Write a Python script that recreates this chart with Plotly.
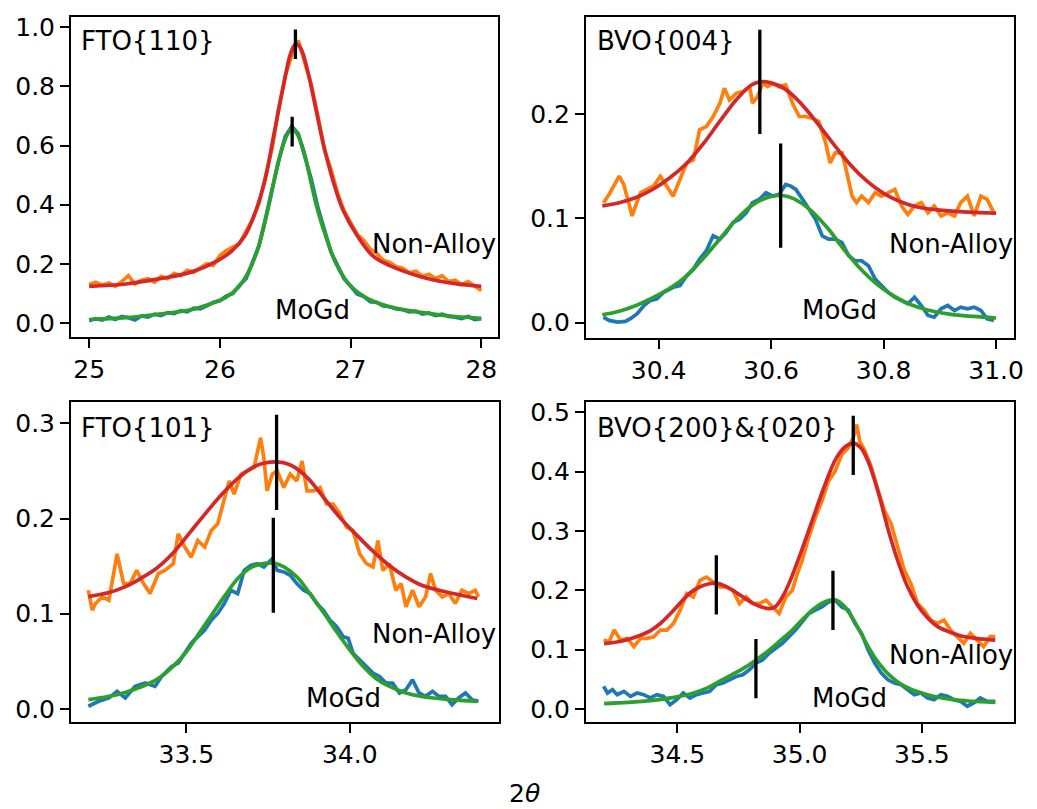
import plotly.graph_objects as go
from plotly.subplots import make_subplots

# ---------------- FTO{110} (25-28) ----------------
tl_x = [25.00, 25.05, 25.10, 25.15, 25.20, 25.25, 25.30, 25.35, 25.40, 25.45,
        25.50, 25.55, 25.60, 25.65, 25.70, 25.75, 25.80, 25.85, 25.90, 25.95,
        26.00, 26.05, 26.10, 26.15, 26.20, 26.25, 26.30, 26.35, 26.40, 26.45,
        26.50, 26.55, 26.60, 26.65, 26.70, 26.75, 26.80, 26.85, 26.90, 26.95,
        27.00, 27.05, 27.10, 27.15, 27.20, 27.25, 27.30, 27.35, 27.40, 27.45,
        27.50, 27.55, 27.60, 27.65, 27.70, 27.75, 27.80, 27.85, 27.90, 27.95, 28.00]
tl_nonalloy = [.130, .138, .128, .135, .124, .140, .160, .132, .145, .150,
               .138, .158, .150, .168, .160, .178, .172, .185, .200, .195,
               .228, .245, .255, .268, .310, .350, .405, .500, .590, .725,
               .835, .905, .955, .880, .805, .700, .585, .520, .440, .380,
               .340, .300, .280, .250, .235, .212, .205, .190, .185, .170,
               .175, .158, .165, .150, .160, .140, .145, .130, .140, .125, .110]
tl_mogd = [.008, .015, .010, .020, .012, .022, .018, .010, .024, .020,
           .030, .025, .035, .032, .042, .038, .050, .048, .058, .070,
           .075, .092, .100, .128, .150, .205, .262, .355, .450, .550,
           .630, .665, .640, .560, .485, .390, .310, .240, .195, .150,
           .125, .098, .090, .072, .070, .058, .055, .048, .045, .038,
           .040, .030, .034, .025, .030, .022, .020, .015, .022, .012, .015]
tl_fit_na_x = [25.00, 25.28, 25.53, 25.78, 25.98, 26.09, 26.19, 26.26, 26.34, 26.41,
               26.49, 26.54, 26.58, 26.62, 26.67, 26.72, 26.79, 26.87, 26.94, 27.05,
               27.17, 27.30, 27.55, 27.80, 28.00]
tl_fit_na_y = [.124, .132, .149, .172, .210, .243, .294, .361, .473, .630,
               .810, .910, .944, .927, .855, .754, .608, .474, .384, .296,
               .227, .194, .155, .133, .124]
tl_fit_mg_x = [25.00, 25.28, 25.53, 25.78, 25.91, 26.04, 26.14, 26.21, 26.29, 26.36,
               26.44, 26.49, 26.53, 26.555, 26.59, 26.64, 26.69, 26.74, 26.82, 26.89,
               26.99, 27.12, 27.30, 27.55, 27.80, 28.00]
tl_fit_mg_y = [.012, .018, .030, .045, .062, .085, .120, .165, .250, .370,
               .530, .610, .648, .656, .640, .585, .490, .395, .280, .200,
               .130, .085, .055, .035, .022, .016]
tl_peak_x = [26.578, 26.553]
tl_peak_y = [0.942, 0.647]

# ---------------- BVO{004} (30.3-31.0) ----------------
tr_na_x = [30.302, 30.312, 30.330, 30.338, 30.347, 30.353, 30.359, 30.368, 30.379, 30.391,
           30.403, 30.415, 30.426, 30.438, 30.450, 30.462, 30.473, 30.485, 30.497, 30.509,
           30.517, 30.526, 30.538, 30.550, 30.562, 30.567, 30.576, 30.585, 30.594, 30.603,
           30.614, 30.626, 30.638, 30.650, 30.661, 30.673, 30.685, 30.697, 30.705, 30.714,
           30.726, 30.732, 30.744, 30.752, 30.761, 30.773, 30.785, 30.796, 30.808, 30.820,
           30.832, 30.843, 30.855, 30.867, 30.879, 30.890, 30.902, 30.914, 30.926, 30.937,
           30.949, 30.961, 30.973, 30.984, 30.996]
tr_na_y = [.1151, .1230, .1405, .1326, .1151, .1024, .1119, .1246, .1278, .1310,
           .1405, .1310, .1214, .1373, .1532, .1564, .1851, .1882, .1978, .2105,
           .2248, .2137, .2200, .2216, .2264, .2105, .2169, .2296, .2264, .2296,
           .2264, .2280, .2105, .1978, .1978, .1962, .1930, .1723, .1532, .1628,
           .1628, .1501, .1214, .1151, .1214, .1151, .1246, .1214, .1246, .1278,
           .1119, .1039, .1119, .1151, .1055, .1119, .1024, .1055, .1024, .1151,
           .1214, .1024, .1214, .1183, .1055]
tr_mg_x = [30.302, 30.312, 30.327, 30.341, 30.350, 30.362, 30.374, 30.385, 30.397, 30.409,
           30.426, 30.438, 30.450, 30.462, 30.473, 30.485, 30.497, 30.509, 30.520, 30.532,
           30.544, 30.556, 30.567, 30.579, 30.591, 30.603, 30.614, 30.626, 30.635, 30.644,
           30.656, 30.667, 30.679, 30.691, 30.702, 30.714, 30.726, 30.738, 30.749, 30.761,
           30.773, 30.785, 30.796, 30.808, 30.820, 30.832, 30.843, 30.855, 30.867, 30.879,
           30.890, 30.902, 30.914, 30.926, 30.937, 30.949, 30.961, 30.973, 30.984, 30.996]
tr_mg_y = [.0053, .0022, .0006, .0012, .0038, .0086, .0165, .0212, .0228, .0291,
           .0340, .0356, .0451, .0515, .0610, .0690, .0833, .0801, .0865, .0960,
           .0992, .1055, .1151, .1183, .1246, .1214, .1230, .1326, .1310, .1278,
           .1183, .1087, .0992, .0833, .0801, .0801, .0769, .0642, .0594, .0594,
           .0546, .0419, .0356, .0291, .0244, .0212, .0181, .0244, .0165, .0069,
           .0053, .0133, .0165, .0117, .0149, .0133, .0149, .0117, .0038, .0022]
tr_fit_na_x = [30.30, 30.33, 30.36, 30.39, 30.42, 30.45, 30.48, 30.51, 30.54, 30.565,
               30.58, 30.60, 30.625, 30.65, 30.68, 30.71, 30.74, 30.77, 30.80, 30.83,
               30.86, 30.90, 30.95, 31.00]
tr_fit_na_y = [.112, .115, .120, .128, .139, .153, .172, .194, .215, .228,
               .231, .230, .224, .212, .193, .172, .152, .136, .124, .116,
               .111, .108, .106, .105]
tr_fit_mg_x = [30.30, 30.33, 30.36, 30.39, 30.42, 30.45, 30.48, 30.51, 30.54, 30.57,
               30.60, 30.62, 30.64, 30.67, 30.70, 30.73, 30.76, 30.79, 30.82, 30.85,
               30.88, 30.92, 30.96, 31.00]
tr_fit_mg_y = [.0076, .011, .0165, .024, .033, .045, .062, .081, .100, .114,
               .121, .122, .119, .108, .091, .070, .051, .036, .025, .017,
               .012, .008, .006, .0045]
tr_peak_x = [30.580, 30.617]
tr_peak_y = [0.231, 0.122]

# ---------------- FTO{101} (33.2-34.4) ----------------
bl_na_x = [33.200, 33.212, 33.222, 33.242, 33.263, 33.288, 33.308, 33.328, 33.348, 33.369,
           33.389, 33.414, 33.434, 33.460, 33.475, 33.495, 33.515, 33.535, 33.556, 33.576,
           33.596, 33.616, 33.631, 33.646, 33.667, 33.687, 33.707, 33.727, 33.737, 33.747,
           33.763, 33.778, 33.798, 33.818, 33.838, 33.854, 33.869, 33.889, 33.909, 33.929,
           33.949, 33.970, 33.990, 34.010, 34.030, 34.051, 34.071, 34.086, 34.101, 34.121,
           34.141, 34.157, 34.172, 34.192, 34.212, 34.232, 34.247, 34.263, 34.283, 34.303,
           34.323, 34.343, 34.364, 34.384, 34.394]
bl_na_y = [.1247, .1038, .1108, .1177, .1142, .1630, .1317, .1317, .1456, .1317,
           .1212, .1421, .1456, .1526, .1839, .1700, .1595, .1769, .1700, .1874,
           .1944, .2187, .2396, .2257, .2466, .2501, .2536, .2849, .2640, .2292,
           .2466, .2501, .2327, .2466, .2396, .2605, .2292, .2292, .2327, .2153,
           .2153, .2048, .1909, .1874, .1630, .1526, .1491, .1769, .1456, .1526,
           .1247, .1317, .1073, .1247, .1073, .1177, .1421, .1247, .1177, .1212,
           .1108, .1247, .1212, .1247, .1177]
bl_mg_x = [33.200, 33.232, 33.263, 33.288, 33.313, 33.343, 33.374, 33.404, 33.424, 33.455,
           33.475, 33.495, 33.515, 33.535, 33.556, 33.576, 33.596, 33.616, 33.636, 33.657,
           33.677, 33.697, 33.717, 33.737, 33.763, 33.778, 33.798, 33.818, 33.838, 33.859,
           33.879, 33.899, 33.919, 33.939, 33.960, 33.980, 33.995, 34.010, 34.030, 34.051,
           34.071, 34.091, 34.111, 34.131, 34.152, 34.172, 34.192, 34.212, 34.232, 34.253,
           34.273, 34.293, 34.313, 34.333, 34.354, 34.374, 34.394]
bl_mg_y = [.0028, .0080, .0115, .0185, .0115, .0237, .0272, .0237, .0341, .0446,
           .0481, .0585, .0690, .0759, .0829, .0933, .1003, .1108, .1247, .1212,
           .1456, .1508, .1526, .1491, .1578, .1456, .1439, .1404, .1317, .1247,
           .1212, .1108, .1038, .0933, .0864, .0759, .0742, .0585, .0516, .0446,
           .0376, .0341, .0272, .0272, .0167, .0202, .0307, .0167, .0132, .0185,
           .0132, .0132, .0045, .0115, .0167, .0097, .0080]
bl_fit_na_x = [33.20, 33.26, 33.31, 33.36, 33.41, 33.46, 33.51, 33.56, 33.61, 33.66,
               33.71, 33.77, 33.82, 33.87, 33.92, 33.97, 34.02, 34.07, 34.12, 34.17,
               34.22, 34.27, 34.32, 34.39]
bl_fit_na_y = [.118, .122, .128, .137, .148, .164, .185, .206, .226, .243,
               .255, .2595, .256, .243, .222, .201, .183, .166, .151, .139,
               .130, .125, .121, .116]
bl_fit_mg_x = [33.20, 33.26, 33.31, 33.36, 33.41, 33.46, 33.50, 33.54, 33.58, 33.62,
               33.66, 33.70, 33.74, 33.77, 33.80, 33.84, 33.88, 33.92, 33.96, 34.00,
               34.04, 34.08, 34.12, 34.17, 34.22, 34.30, 34.39]
bl_fit_mg_y = [.0098, .013, .017, .023, .031, .045, .060, .080, .100, .120,
               .138, .149, .153, .153, .149, .138, .120, .101, .081, .062,
               .045, .032, .024, .017, .013, .010, .008]
bl_peak_x = [33.776, 33.766]
bl_peak_y = [0.259, 0.151]

# ---------------- BVO{200}&{020} (34.2-35.8) ----------------
br_na_x = [34.198, 34.221, 34.241, 34.268, 34.295, 34.322, 34.349, 34.376, 34.403, 34.430,
           34.457, 34.484, 34.511, 34.538, 34.565, 34.592, 34.619, 34.646, 34.673, 34.700,
           34.727, 34.754, 34.781, 34.808, 34.835, 34.862, 34.889, 34.916, 34.943, 34.970,
           34.990, 35.010, 35.037, 35.064, 35.091, 35.118, 35.145, 35.172, 35.199, 35.219,
           35.233, 35.246, 35.267, 35.294, 35.321, 35.347, 35.374, 35.401, 35.428, 35.455,
           35.482, 35.509, 35.536, 35.563, 35.590, 35.617, 35.644, 35.671, 35.698, 35.725,
           35.752, 35.779, 35.800]
br_na_y = [.1161, .1133, .1329, .1161, .1189, .1050, .1189, .1189, .1217, .1329,
           .1329, .1441, .1664, .1943, .1887, .2166, .2222, .2138, .2055, .2055,
           .1999, .1776, .1887, .1776, .1776, .1831, .1720, .1608, .1887, .1999,
           .2278, .2501, .2892, .3227, .3506, .3841, .4009, .4288, .4400, .4567,
           .4791, .4511, .4344, .4065, .3674, .3339, .3116, .2725, .2334, .2111,
           .1776, .1664, .1496, .1441, .1496, .1329, .1217, .1106, .1273, .1161,
           .1050, .1217, .1217]
br_mg_x = [34.198, 34.214, 34.234, 34.254, 34.281, 34.308, 34.335, 34.362, 34.389, 34.416,
           34.443, 34.470, 34.497, 34.524, 34.551, 34.578, 34.605, 34.632, 34.659, 34.686,
           34.713, 34.740, 34.767, 34.794, 34.821, 34.848, 34.875, 34.902, 34.929, 34.956,
           34.983, 35.010, 35.037, 35.064, 35.091, 35.118, 35.145, 35.172, 35.199, 35.226,
           35.253, 35.280, 35.307, 35.334, 35.361, 35.388, 35.415, 35.442, 35.469, 35.496,
           35.523, 35.550, 35.577, 35.604, 35.631, 35.658, 35.685, 35.712, 35.739, 35.766, 35.800]
br_mg_y = [.0380, .0268, .0324, .0240, .0296, .0212, .0268, .0240, .0184, .0240,
           .0212, .0073, .0156, .0268, .0184, .0240, .0268, .0296, .0408, .0436,
           .0491, .0547, .0575, .0659, .0771, .0826, .0938, .1022, .1106, .1217,
           .1329, .1468, .1608, .1664, .1720, .1803, .1831, .1720, .1664, .1441,
           .1273, .0994, .0771, .0603, .0491, .0436, .0408, .0324, .0240, .0268,
           .0184, .0156, .0240, .0212, .0156, .0128, .0045, .0101, .0184, .0128, .0128]
br_fit_na_x = [34.20, 34.27, 34.335, 34.39, 34.43, 34.47, 34.51, 34.55, 34.59, 34.63,
               34.66, 34.70, 34.73, 34.77, 34.81, 34.85, 34.875, 34.90, 34.93, 34.96,
               35.00, 35.05, 35.10, 35.15, 35.19, 35.22, 35.25, 35.28, 35.32, 35.36,
               35.40, 35.44, 35.48, 35.52, 35.56, 35.61, 35.66, 35.72, 35.80]
br_fit_na_y = [.110, .114, .122, .132, .144, .160, .178, .195, .2055, .211,
               .212, .206, .199, .188, .178, .171, .169, .172, .189, .215,
               .258, .316, .374, .423, .443, .448, .440, .417, .367, .305,
               .251, .207, .176, .155, .140, .130, .123, .119, .116]
br_fit_mg_x = [34.20, 34.30, 34.40, 34.48, 34.56, 34.62, 34.67, 34.72, 34.78, 34.83,
               34.875, 34.92, 34.97, 35.01, 35.05, 35.09, 35.12, 35.15, 35.18, 35.21,
               35.25, 35.28, 35.31, 35.35, 35.39, 35.43, 35.49, 35.55, 35.62, 35.70, 35.80]
br_fit_mg_y = [.009, .011, .0145, .019, .026, .035, .046, .057, .071, .085,
               .099, .115, .133, .150, .166, .178, .183, .183, .174, .157,
               .128, .105, .085, .064, .049, .038, .028, .021, .016, .013, .011]
br_peak_x = [34.659, 35.219, 35.136, 34.821]
br_peak_y = [0.209, 0.444, 0.183, 0.068]
peak_half = 0.05

# ---------------- axes / labels ----------------
xticks = [[25, 26, 27, 28], [30.4, 30.6, 30.8, 31.0], [33.5, 34.0], [34.5, 35.0, 35.5]]
xticklabels = [["25", "26", "27", "28"], ["30.4", "30.6", "30.8", "31.0"],
               ["33.5", "34.0"], ["34.5", "35.0", "35.5"]]
yticks = [[0.0, 0.2, 0.4, 0.6, 0.8, 1.0], [0.0, 0.1, 0.2], [0.0, 0.1, 0.2, 0.3],
          [0.0, 0.1, 0.2, 0.3, 0.4, 0.5]]
yticklabels = [["0.0", "0.2", "0.4", "0.6", "0.8", "1.0"], ["0.0", "0.1", "0.2"],
               ["0.0", "0.1", "0.2", "0.3"], ["0.0", "0.1", "0.2", "0.3", "0.4", "0.5"]]
xranges = [[24.861, 28.129], [30.271, 31.032], [33.147, 34.457], [34.126, 35.877]]
yranges = [[-0.047, 1.0336], [-0.0146, 0.293], [-0.014, 0.323], [-0.0224, 0.518]]

W, H = 1037, 809
BLUE, ORANGE, GREEN, RED = "#1f77b4", "#ff7f0e", "#2ca02c", "#d62728"
FONT = "DejaVu Sans"
LW = 3.7

fig = make_subplots(rows=2, cols=2)

panels = [
    (1, 1, tl_x, tl_mogd, tl_x, tl_nonalloy, tl_fit_mg_x, tl_fit_mg_y, tl_fit_na_x, tl_fit_na_y, tl_peak_x, tl_peak_y),
    (1, 2, tr_mg_x, tr_mg_y, tr_na_x, tr_na_y, tr_fit_mg_x, tr_fit_mg_y, tr_fit_na_x, tr_fit_na_y, tr_peak_x, tr_peak_y),
    (2, 1, bl_mg_x, bl_mg_y, bl_na_x, bl_na_y, bl_fit_mg_x, bl_fit_mg_y, bl_fit_na_x, bl_fit_na_y, bl_peak_x, bl_peak_y),
    (2, 2, br_mg_x, br_mg_y, br_na_x, br_na_y, br_fit_mg_x, br_fit_mg_y, br_fit_na_x, br_fit_na_y, br_peak_x, br_peak_y),
]
for (r, c, mx, my, nx, ny, fmx, fmy, fnx, fny, px, py) in panels:
    fig.add_trace(go.Scatter(x=mx, y=my, mode="lines", line=dict(color=BLUE, width=LW),
                             showlegend=False, hoverinfo="skip"), row=r, col=c)
    fig.add_trace(go.Scatter(x=nx, y=ny, mode="lines", line=dict(color=ORANGE, width=LW),
                             showlegend=False, hoverinfo="skip"), row=r, col=c)
    fig.add_trace(go.Scatter(x=fmx, y=fmy, mode="lines", line=dict(color=GREEN, width=LW, shape="spline"),
                             showlegend=False, hoverinfo="skip"), row=r, col=c)
    fig.add_trace(go.Scatter(x=fnx, y=fny, mode="lines", line=dict(color=RED, width=LW, shape="spline"),
                             showlegend=False, hoverinfo="skip"), row=r, col=c)
    for xp, yp in zip(px, py):
        fig.add_trace(go.Scatter(x=[xp, xp], y=[yp - peak_half, yp + peak_half], mode="lines",
                                 line=dict(color="black", width=3.3),
                                 showlegend=False, hoverinfo="skip"), row=r, col=c)

xdomains = [[71.7 / W, 503 / W], [591.7 / W, 1024 / W], [71.7 / W, 504 / W], [591.7 / W, 1024 / W]]
ydomains = [[1 - 335 / H, 1 - 13.3 / H], [1 - 336 / H, 1 - 13.3 / H],
            [1 - 722.7 / H, 1 - 400 / H], [1 - 722.7 / H, 1 - 400 / H]]

axcommon = dict(showline=True, mirror=True, linecolor="black", linewidth=2,
                ticks="outside", ticklen=9, tickwidth=2, tickcolor="black",
                showgrid=False, zeroline=False,
                tickfont=dict(family=FONT, size=25, color="black"))
for i in range(4):
    xa = "xaxis" if i == 0 else f"xaxis{i + 1}"
    ya = "yaxis" if i == 0 else f"yaxis{i + 1}"
    fig.layout[xa].update(domain=xdomains[i], range=xranges[i], tickvals=xticks[i],
                          ticktext=xticklabels[i], **axcommon)
    fig.layout[ya].update(domain=ydomains[i], range=yranges[i], tickvals=yticks[i],
                          ticktext=yticklabels[i], **axcommon)

# text labels (paper coordinates in pixels)
labels = [
    ("FTO{110}", 79.5, 37), ("Non-Alloy", 374, 241), ("MoGd", 276, 308),
    ("BVO{004}", 600.5, 37), ("Non-Alloy", 896, 241.7), ("MoGd", 808, 308),
    ("FTO{101}", 79.5, 427), ("Non-Alloy", 374, 634), ("MoGd", 307, 698.5),
    ("BVO{200}&{020}", 600.5, 427), ("Non-Alloy", 896, 655.3), ("MoGd", 818, 698.5),
]
for txt, px_, py_ in labels:
    fig.add_annotation(text=txt, x=px_ / W, y=1 - py_ / H, xref="paper", yref="paper",
                       xanchor="left", yanchor="middle", showarrow=False,
                       font=dict(family=FONT, size=26, color="black"))

fig.add_annotation(text="2<i>θ</i>", x=530 / W, y=1 - 794 / H, xref="paper", yref="paper",
                   xanchor="center", yanchor="middle", showarrow=False,
                   font=dict(family=FONT, size=25, color="black"))

fig.update_layout(width=W, height=H, margin=dict(l=0, r=0, t=0, b=0),
                  paper_bgcolor="white", plot_bgcolor="white",
                  font=dict(family=FONT, size=25, color="black"))

fig.write_html("out.html")
